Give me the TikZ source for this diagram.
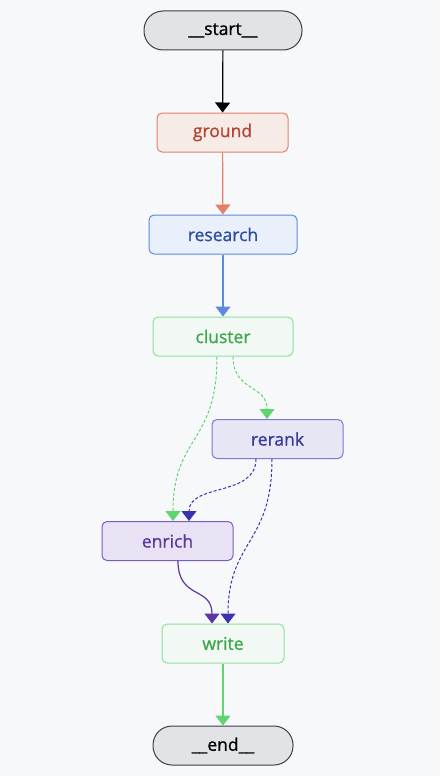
\documentclass[tikz,border=0pt]{standalone}
\usepackage{fontspec}
\setmainfont{Open Sans}
\newfontfamily\nodofuente[FakeBold=1.0]{Open Sans}
\usetikzlibrary{arrows.meta}

% Colores
\definecolor{fondo}{HTML}{F7F8FA}
\definecolor{grisF}{HTML}{E2E3E6}
\definecolor{grisB}{HTML}{3F3F42}
\definecolor{rojoF}{HTML}{F7EBE8}
\definecolor{rojoB}{HTML}{E4806A}
\definecolor{rojoT}{HTML}{B5432F}
\definecolor{azulF}{HTML}{EAF0FB}
\definecolor{azulB}{HTML}{5B8AE0}
\definecolor{azulT}{HTML}{2B4FA0}
\definecolor{verdeF}{HTML}{F2F8F3}
\definecolor{verdeB}{HTML}{8CE29A}
\definecolor{verdeT}{HTML}{3AA84A}
\definecolor{verdeA}{HTML}{5FD470}
\definecolor{lilaF}{HTML}{E6E6F4}
\definecolor{lilaB}{HTML}{7B78D6}
\definecolor{lilaT}{HTML}{3B3A9A}
\definecolor{lilaA}{HTML}{3A32B0}
\definecolor{moradoF}{HTML}{E8E2F4}
\definecolor{moradoB}{HTML}{7A5CC4}
\definecolor{moradoT}{HTML}{5A3AA0}
\definecolor{moradoA}{HTML}{5E34A6}

\tikzset{
  caja/.style={draw, rounded corners=5pt, line width=1pt, minimum height=39pt,
    inner sep=0pt, font=\nodofuente\fontsize{17.5}{20}\selectfont},
  extremo/.style={caja, rounded corners=19pt, fill=grisF, draw=grisB, text=black},
  flecha/.style={line width=1.2pt, -{Triangle[width=15pt,length=10pt]}},
  discont/.style={flecha, line width=1pt, dash pattern=on 3pt off 2pt}
}

\begin{document}
\begin{tikzpicture}[x=1pt, y=-1pt]
      % Fondo y margenes
      \fill[fondo] (0, 0) rectangle (440, 776);
      \useasboundingbox (0, 0) rectangle (440, 776);

      % Nodos del grafo
      \node[extremo, minimum width=158pt] (start) at (223, 30.5) {\_\_start\_\_};
      \node[caja, fill=rojoF, draw=rojoB, text=rojoT, minimum width=131pt] (ground) at (222.5, 132.5) {ground};
      \node[caja, fill=azulF, draw=azulB, text=azulT, minimum width=148pt] (research) at (223, 234.5) {research};
      \node[caja, fill=verdeF, draw=verdeB, text=verdeT, minimum width=140pt] (cluster) at (223, 336.5) {cluster};
      \node[caja, fill=lilaF, draw=lilaB, text=lilaT, minimum width=131pt] (rerank) at (277.5, 439) {rerank};
      \node[caja, fill=moradoF, draw=moradoB, text=moradoT, minimum width=131pt] (enrich) at (167.5, 541) {enrich};
      \node[caja, fill=verdeF, draw=verdeB, text=verdeT, minimum width=122pt] (write) at (223, 643.5) {write};
      \node[extremo, minimum width=140pt] (end) at (223, 745.5) {\_\_end\_\_};

      % Aristas rectas
      \draw[flecha, black] (start) -- (ground);
      \draw[flecha, rojoB] (ground) -- (research);
      \draw[flecha, azulB] (research) -- (cluster);
      \draw[flecha, verdeA] (write) -- (end);

      % Aristas condicionales
      \draw[discont, verdeA] ([xshift=10pt]cluster.south) .. controls (233, 392) and (267, 384) .. ([xshift=-10.5pt]rerank.north);
      \draw[discont, verdeA] ([xshift=-6pt]cluster.south) .. controls (217, 445) and (173, 435) .. ([xshift=5.5pt]enrich.north);
      \draw[discont, lilaA] ([xshift=-21.5pt]rerank.south) .. controls (256, 497) and (189, 483) .. ([xshift=21.5pt]enrich.north);
      \draw[discont, lilaA] ([xshift=-5.5pt]rerank.south) .. controls (272, 545) and (228, 540) .. ([xshift=5pt]write.north);

      % Arista de enrich a write
      \draw[flecha, moradoA] ([xshift=10.5pt]enrich.south) .. controls (178, 600) and (212, 586) .. ([xshift=-11pt]write.north);
    \end{tikzpicture}
\end{document}
